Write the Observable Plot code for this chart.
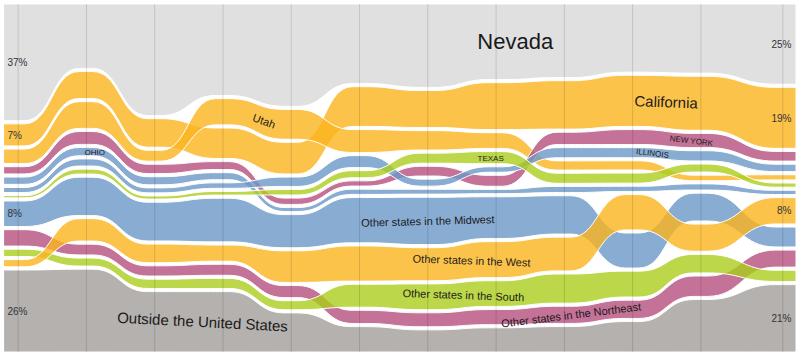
<!DOCTYPE html>
<html><head><meta charset="utf-8">
<script src="https://cdn.jsdelivr.net/npm/d3@7"></script>
<script src="https://cdn.jsdelivr.net/npm/@observablehq/plot@0.6"></script>
<style>body{margin:0;background:#fff}svg{display:block}</style>
</head><body><div id="chart"></div>
<script>
// ---- data (shares of Nevada residents by birthplace, %) ----
const years = [1900,1910,1920,1930,1940,1950,1960,1970,1980,1990,2000,2012];
const bands = ["Nevada","California","Utah","New York","Ohio","Illinois","Texas","Midwest","West","South","Northeast","Outside"];
const nevada     = [37, 21, 36, 30, 34, 26, 27.5, 25, 24, 22.4, 22.4, 25];
const california = [7, 8.8, 9.2, 10, 10.5, 13, 12.2, 15.5, 15.8, 16.8, 17.5, 19];
const utah       = [4.6, 8.7, 3.5, 8.6, 9.9, 7.5, 6.4, 5.2, 3, 3, 1.8, 1.6];
const newYork    = [2.3, 4.2, 3, 2.6, 2.1, 1.7, 3.2, 3.6, 4, 4.9, 4.6, 3];
const ohio       = [2.3, 2.7, 2.6, 2.3, 1.3, 1.7, 1.6, 1.4, 2, 1.7, 2, 1.3];
const illinois   = [1.6, 2.3, 1.6, 1.8, 3.1, 3.9, 2.3, 1.8, 3.3, 3.3, 3.3, 2.3];
const texas      = [0.7, 1.6, 1, 1.2, 1.8, 2.3, 3.3, 4, 3.3, 3.3, 2.6, 1.3];
const midwest    = [8.1, 12.5, 12.5, 14.3, 11, 14.8, 15.6, 13.8, 12.5, 11.5, 9, 6.2];
const west       = [2.3, 7.3, 6, 5.3, 10.5, 11.5, 10.9, 11.9, 11, 11.6, 8.8, 8.2];
const south      = [2.3, 2.6, 3, 3.3, 3, 7.5, 8.5, 8.5, 9.5, 8.5, 6, 3.5];
const northeast  = [5.2, 3.5, 3.3, 3.6, 4, 4.3, 4.6, 5, 5.6, 6, 6.6, 5.3];
const outside    = [26, 27, 19.5, 19.8, 13, 8.3, 7.3, 8, 8.3, 10, 17, 21];
const seriesValues = [nevada, california, utah, newYork, ohio, illinois, texas, midwest, west, south, northeast, outside];
const bandGroup = ["nevada","west","west","northeast","midwest","midwest","south","midwest","west","south","northeast","outside"];

// order of bands, top to bottom, at each year
const orderByYear = [
  ["Nevada","California","Utah","New York","Ohio","Illinois","Texas","Midwest","Northeast","South","West","Outside"],
  ["Nevada","California","Utah","New York","Ohio","Illinois","Texas","Midwest","West","Northeast","South","Outside"],
  ["Nevada","California","Utah","New York","Ohio","Illinois","Texas","Midwest","West","Northeast","South","Outside"],
  ["Nevada","Utah","California","New York","Ohio","Illinois","Texas","Midwest","West","Northeast","South","Outside"],
  ["Nevada","Utah","California","Illinois","Texas","New York","Ohio","Midwest","West","Northeast","South","Outside"],
  ["Nevada","California","Utah","Illinois","Texas","New York","Ohio","Midwest","West","South","Northeast","Outside"],
  ["Nevada","California","Utah","Texas","New York","Illinois","Ohio","Midwest","West","South","Northeast","Outside"],
  ["Nevada","California","Utah","Texas","Illinois","New York","Ohio","Midwest","West","South","Northeast","Outside"],
  ["Nevada","California","New York","Illinois","Utah","Texas","Ohio","Midwest","West","South","Northeast","Outside"],
  ["Nevada","California","New York","Illinois","Utah","Texas","Ohio","West","Midwest","South","Northeast","Outside"],
  ["Nevada","California","New York","Illinois","Texas","Utah","Ohio","Midwest","West","South","Northeast","Outside"],
  ["Nevada","California","New York","Illinois","Utah","Texas","Ohio","West","Midwest","Northeast","South","Outside"]
];

// labels
const labelBands = ["Nevada","California","Utah","Ohio","Texas","New York","Illinois","Midwest","West","South","Northeast","Outside"];
const labelTexts = ["Nevada","California","Utah","OHIO","TEXAS","NEW YORK","ILLINOIS","Other states in the Midwest","Other states in the West","Other states in the South","Other states in the Northeast","Outside the United States"];
const labelYears = [1972.8, 1994.9, 1936, 1911.2, 1969.2, 1998.6, 1992.9, 1960, 1966.4, 1965.2, 1981, 1927];

// ---- layout / style ----
const GAP = 1.0;      // white space between bands (in % units)
const HOLD = 1;       // years each decade value is held flat
const labelStyle = [
  {size: 22, rotate: 0}, {size: 15, rotate: 2}, {size: 11, rotate: 20},
  {size: 8, rotate: 0}, {size: 8, rotate: 0}, {size: 8, rotate: 7}, {size: 8, rotate: 7},
  {size: 11, rotate: -1.5}, {size: 11, rotate: 2}, {size: 11, rotate: 2},
  {size: 11, rotate: -7}, {size: 15, rotate: 3}
];
const groupDomain = ["nevada","west","midwest","south","northeast","outside"];
const groupRange  = ["#e0e0e0","#fbb41e","#6b97c8","#abcd1c","#b54f7d","#b5b1af"];

// ---- stacking ----
const X0 = 1898, X1 = 2014;
const valueOf = (band, i) => seriesValues[bands.indexOf(band)][i];
const rows = [];
const all = [];
years.forEach((yr, i) => {
  const total = d3.sum(bands, b => valueOf(b, i));
  let y = 0;
  const xa = i === 0 ? X0 : yr - HOLD;
  const xb = i === years.length - 1 ? X1 : yr + HOLD;
  orderByYear[i].forEach(b => {
    const v = valueOf(b, i) / total * 100;
    const r = {band: b, group: bandGroup[bands.indexOf(b)], year: yr, y1: y, y2: y + v, value: valueOf(b, i)};
    rows.push(r);
    all.push({...r, year: xa}, {...r, year: xb});
    y += v + GAP;
  });
});
all.sort((a, b) => a.year - b.year);
const YMAX = 100 + (bands.length - 1) * GAP;

// position along a bump-x segment
function bumpFrac(f) {
  let lo = 0, hi = 1;
  for (let k = 0; k < 40; k++) {
    const t = (lo + hi) / 2;
    const xf = 1.5 * t * (1 - t) + t * t * t;
    if (xf < f) lo = t; else hi = t;
  }
  const t = (lo + hi) / 2;
  return 3 * t * t - 2 * t * t * t;
}
function midAt(band, yr) {
  const pts = all.filter(r => r.band === band);
  for (let i = 0; i < pts.length - 1; i++) {
    const a = pts[i], b = pts[i + 1];
    if (yr >= a.year && yr <= b.year) {
      const s = bumpFrac((yr - a.year) / (b.year - a.year || 1));
      return ((a.y1 + a.y2) / 2) * (1 - s) + ((b.y1 + b.y2) / 2) * s;
    }
  }
  return 0;
}

const bandLabels = labelBands.map((b, i) => ({
  text: labelTexts[i], year: labelYears[i], y: midAt(b, labelYears[i]),
  size: labelStyle[i].size, rotate: labelStyle[i].rotate
}));

// percentage labels: four largest bands at first and last year
function pctLabels(yr) {
  return rows.filter(r => r.year === yr).sort((a, b) => b.value - a.value).slice(0, 4)
    .map(r => ({text: Math.round(r.value) + "%", y: (r.y1 + r.y2) / 2}));
}
const leftPct = pctLabels(years[0]);
const rightPct = pctLabels(years[years.length - 1]);

const opaque = all.filter(r => r.group === "nevada" || r.group === "outside");
const translucent = all.filter(r => !(r.group === "nevada" || r.group === "outside"));

const textMarks = bandLabels.map(d =>
  Plot.text([d], {x: "year", y: "y", text: "text", fontSize: d.size, rotate: d.rotate, fill: "#1a1a1a"}));

const chart = Plot.plot({
  width: 800, height: 357,
  marginTop: 4, marginBottom: 5, marginLeft: 4, marginRight: 4,
  style: {fontFamily: "'Liberation Sans', Arial, sans-serif", background: "#fff"},
  x: {domain: [X0, X1], axis: null},
  y: {domain: [0, YMAX], reverse: true, axis: null},
  color: {domain: groupDomain, range: groupRange},
  marks: [
    Plot.areaY(opaque, {x: "year", y1: "y1", y2: "y2", z: "band", fill: "group", stroke: "white", strokeWidth: 1, curve: "bump-x"}),
    Plot.areaY(translucent, {x: "year", y1: "y1", y2: "y2", z: "band", fill: "group", fillOpacity: 0.8, stroke: "white", strokeWidth: 1, curve: "bump-x"}),
    Plot.ruleX(years, {stroke: "#000", strokeOpacity: 0.13}),
    ...textMarks,
    Plot.text(leftPct, {x: X0, y: "y", text: "text", dx: 3, textAnchor: "start", fontSize: 10, fill: "#333"}),
    Plot.text(rightPct, {x: X1, y: "y", text: "text", dx: -5, textAnchor: "end", fontSize: 10, fill: "#333"})
  ]
});
document.getElementById("chart").appendChild(chart);
</script>
</body></html>
